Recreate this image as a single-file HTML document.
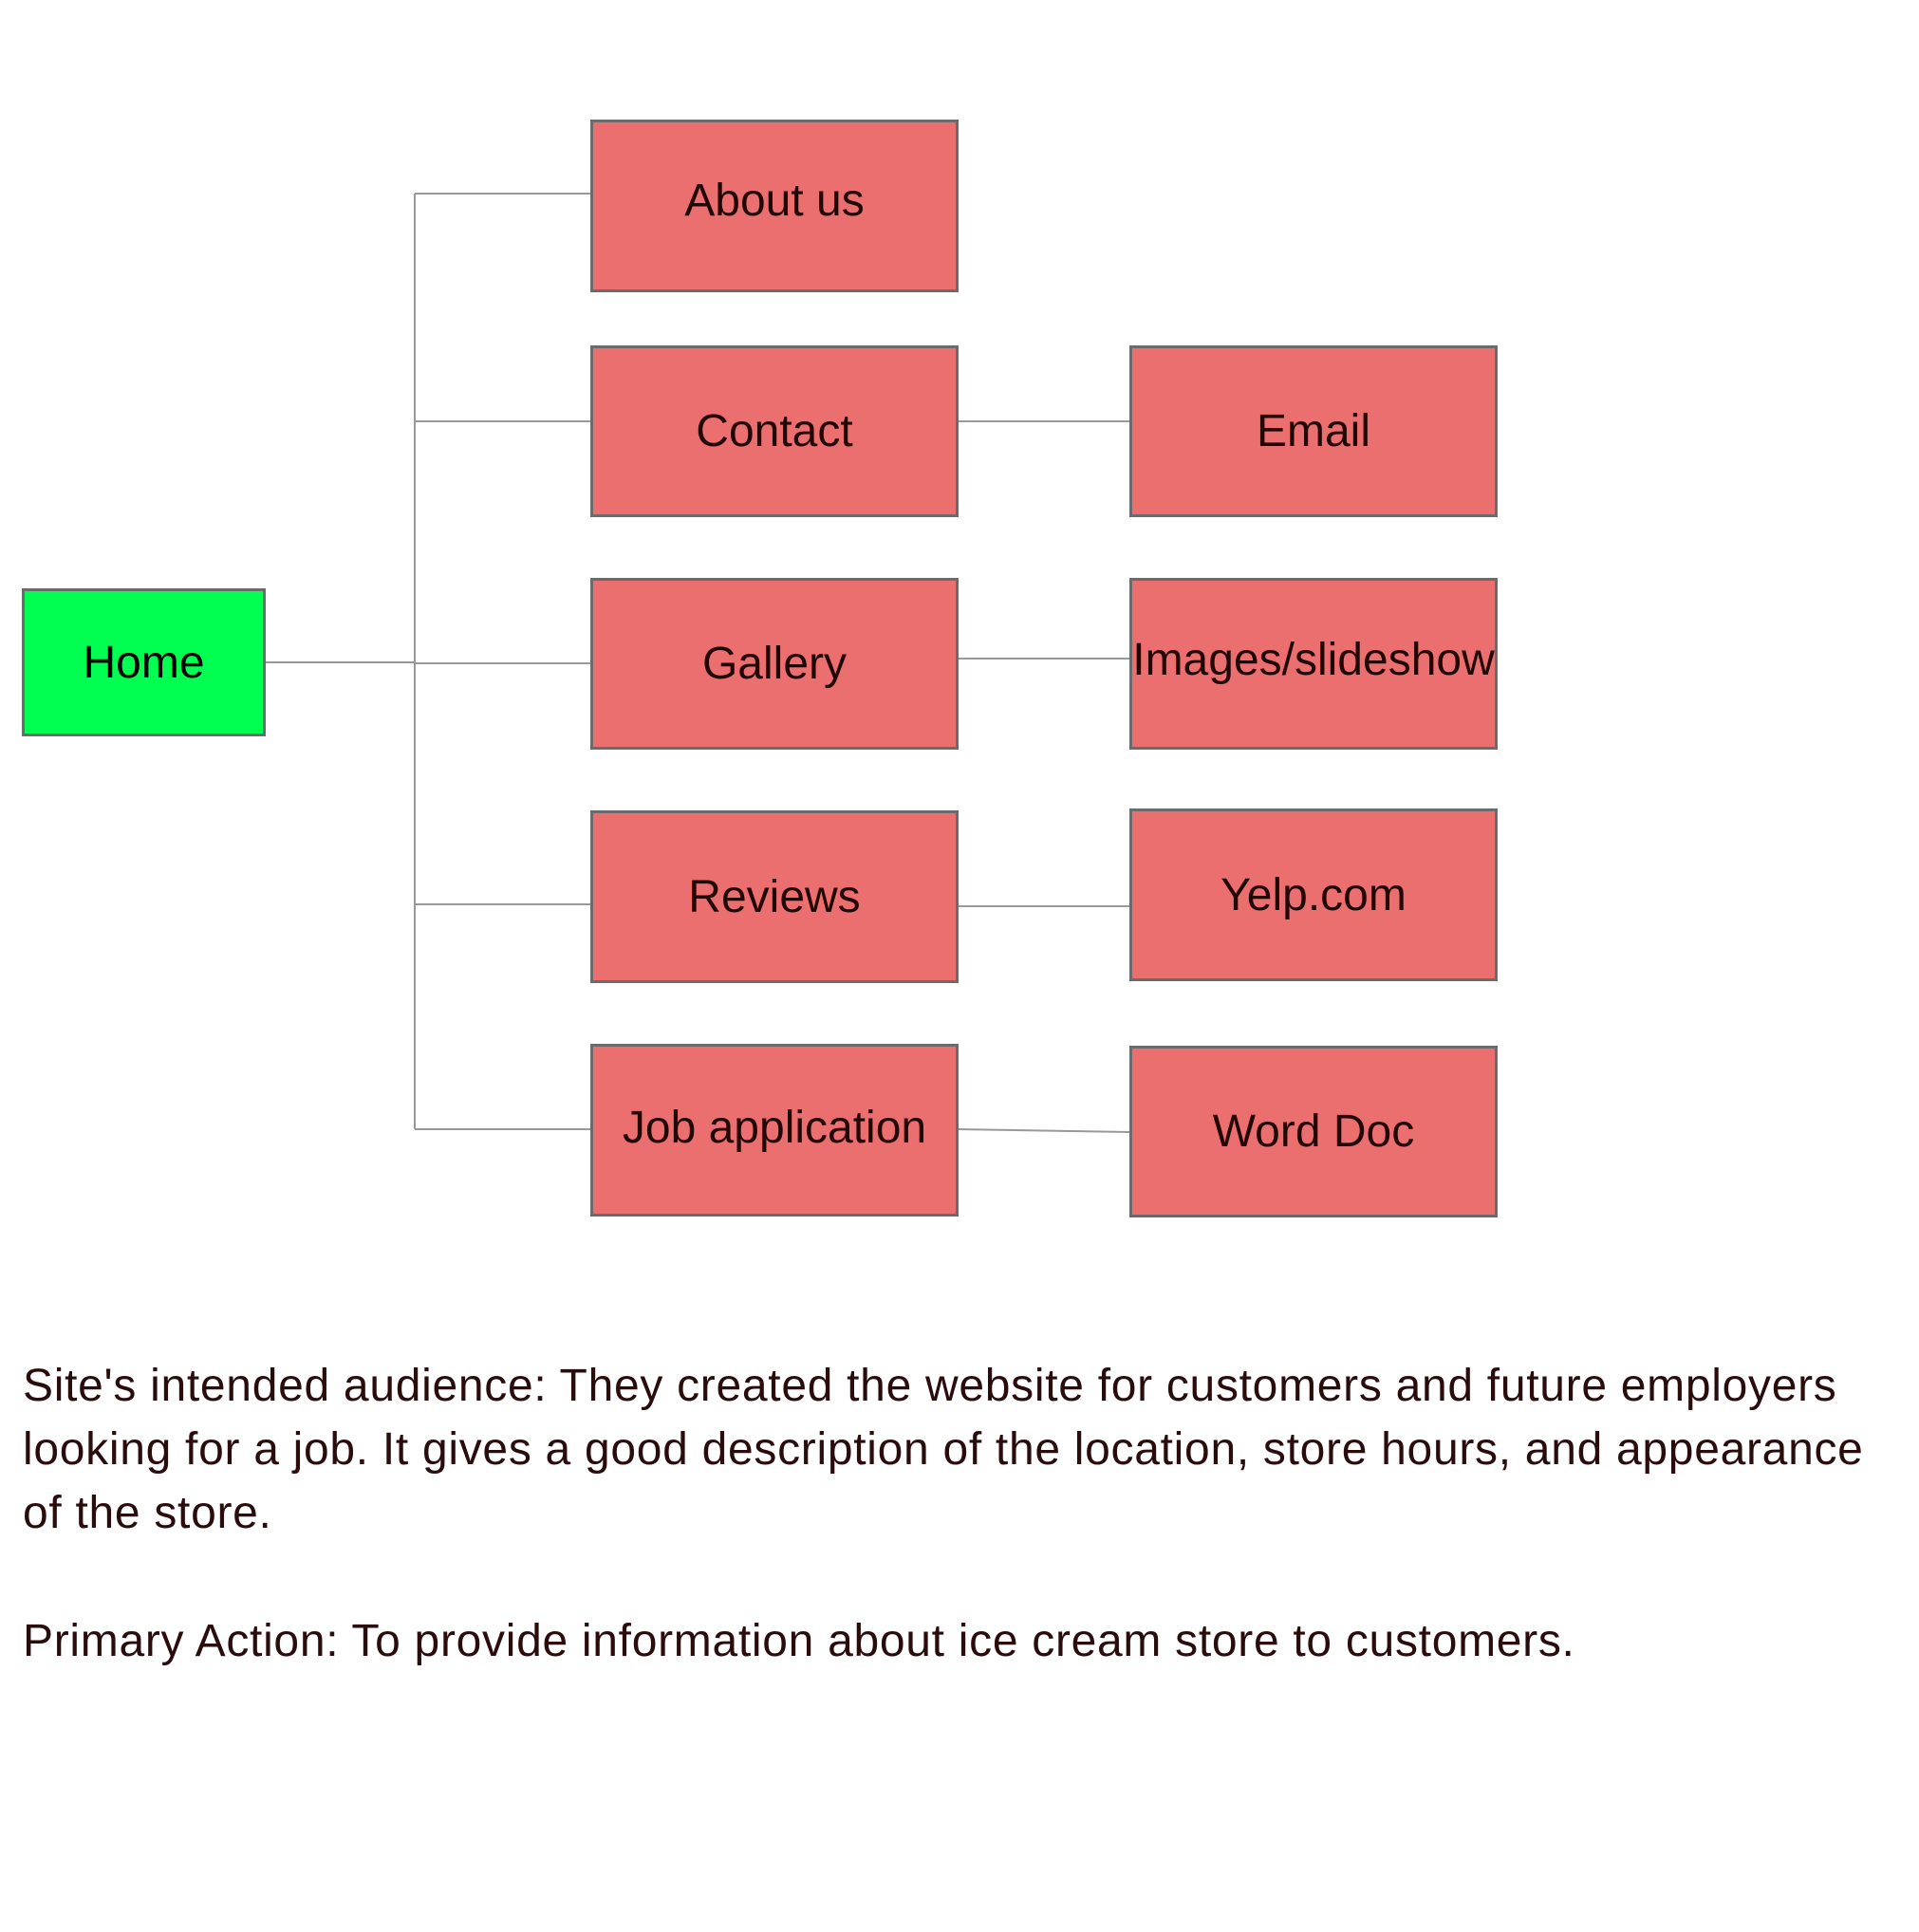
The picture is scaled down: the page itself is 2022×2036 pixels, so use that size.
<!DOCTYPE html>
<html><head><meta charset="utf-8"><style>
html,body{margin:0;padding:0;background:#fff;}
body{width:2022px;height:2036px;position:relative;overflow:hidden;font-family:"Liberation Sans",sans-serif;}
.b{position:absolute;box-sizing:border-box;border:3px solid #6b6b6b;background:#ec6f6f;display:flex;align-items:center;justify-content:center;font-size:48px;color:#220606;white-space:nowrap;}
.g{background:#00ff50;color:#000;}
.t{position:absolute;left:24px;font-size:48px;letter-spacing:0.7px;color:#2a0c0c;line-height:67px;white-space:nowrap;}
</style></head><body>
<svg width="2022" height="2036" style="position:absolute;left:0;top:0">
<g stroke="#999" stroke-width="2" fill="none">
<line x1="437" y1="204" x2="437" y2="1190"/>
<line x1="279" y1="698" x2="437" y2="698"/>
<line x1="437" y1="204" x2="622" y2="204"/>
<line x1="437" y1="444" x2="622" y2="444"/>
<line x1="437" y1="699" x2="622" y2="699"/>
<line x1="437" y1="953" x2="622" y2="953"/>
<line x1="437" y1="1190" x2="622" y2="1190"/>
<line x1="1010" y1="444" x2="1190" y2="444"/>
<line x1="1010" y1="694" x2="1190" y2="694"/>
<line x1="1010" y1="955" x2="1190" y2="955"/>
<line x1="1010" y1="1190" x2="1190" y2="1193"/>
</g></svg>
<div class="b g" style="left:23px;top:620px;width:257px;height:156px;">Home</div>
<div class="b" style="left:622px;top:126px;width:388px;height:182px;padding-bottom:12px">About us</div>
<div class="b" style="left:622px;top:364px;width:388px;height:181px;">Contact</div>
<div class="b" style="left:622px;top:609px;width:388px;height:181px;">Gallery</div>
<div class="b" style="left:622px;top:854px;width:388px;height:182px;">Reviews</div>
<div class="b" style="left:622px;top:1100px;width:388px;height:182px;padding-bottom:6px">Job application</div>
<div class="b" style="left:1190px;top:364px;width:388px;height:181px;">Email</div>
<div class="b" style="left:1190px;top:609px;width:388px;height:181px;padding-bottom:8px">Images/slideshow</div>
<div class="b" style="left:1190px;top:852px;width:388px;height:182px;">Yelp.com</div>
<div class="b" style="left:1190px;top:1102px;width:388px;height:181px;">Word Doc</div>
<div class="t" style="top:1427px">Site's intended audience: They created the website for customers and future employers<br>looking for a job. It gives a good description of the location, store hours, and appearance<br>of the store.</div>
<div class="t" style="top:1696px">Primary Action: To provide information about ice cream store to customers.</div>
</body></html>
